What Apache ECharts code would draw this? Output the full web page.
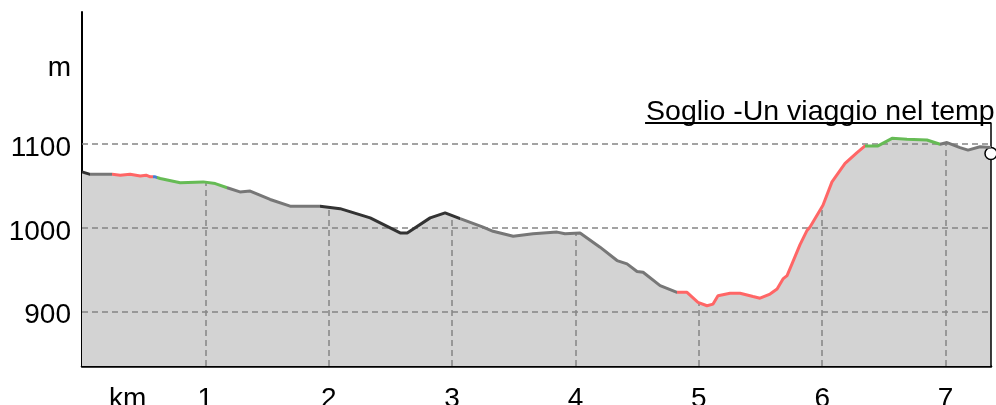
<!DOCTYPE html>
<html>
<head>
<meta charset="utf-8">
<script src="https://cdn.jsdelivr.net/npm/echarts@6/dist/echarts.min.js"></script>
<style>
    html, body { margin: 0; padding: 0; background: #fff; }
    #profile { width: 996px; height: 405px; }
</style>
</head>
<body>
<div id="profile"></div>
<script>
// distance (km) and elevation (m)
const distKm = [0, 0.066, 0.245, 0.31, 0.39, 0.472, 0.52, 0.553, 0.593, 0.634, 0.796, 0.983, 1.08, 1.177,
    1.28, 1.363, 1.525, 1.687, 1.93, 2.092, 2.336, 2.579, 2.636, 2.822, 2.943, 3.065, 3.251, 3.332, 3.495,
    3.656, 3.851, 3.915, 4.037, 4.199, 4.337, 4.418, 4.499, 4.548, 4.686, 4.823, 4.904, 4.993, 5.066, 5.115,
    5.155, 5.253, 5.334, 5.439, 5.496, 5.577, 5.634, 5.682, 5.715, 5.755, 5.82, 5.877, 5.901, 6.006, 6.079,
    6.185, 6.282, 6.347, 6.452, 6.566, 6.687, 6.849, 6.955, 7.012, 7.117, 7.182, 7.279, 7.368];
const elevation = [1067, 1064, 1064, 1063, 1064, 1062, 1063, 1061, 1061, 1059, 1054, 1055, 1053, 1048,
    1043, 1044, 1034, 1026, 1026, 1023, 1012, 994, 994, 1012, 1018, 1011, 1001, 996, 990,
    993, 995, 993, 994, 977, 961, 957, 948, 947, 931, 923, 923, 911, 907, 909,
    919, 922, 922, 918, 916, 921, 927, 939, 943, 957, 980, 997, 1001, 1027, 1055,
    1077, 1090, 1098, 1098, 1107, 1106, 1105, 1100, 1102, 1096, 1093, 1097, 1096];

// coloured stretches of the track (start km + colour)
const segStart = [0, 0.066, 0.245, 0.577, 0.61, 1.177, 1.93, 3.065, 4.823, 6.347, 6.955];
const segColor = ['#333333', '#777777', '#ff6666', '#4a7fd0', '#66bb55', '#777777', '#333333',
    '#777777', '#ff6666', '#66bb55', '#777777'];

const yTicks = [900, 1000, 1100];
const xTicks = [1, 2, 3, 4, 5, 6, 7];
const yUnit = { value: 1196, text: 'm' };
const xUnit = { value: 0.37, text: 'km' };

const title = 'Soglio -Un viaggio nel temp';
const titleStartKm = 4.564;
const titleElev = 1126;
const endMarkerElev = 1089;

const yMin = 835, yMax = 1258;
const xMax = distKm[distKm.length - 1];

function elevAt(km) {
    for (let i = 1; i < distKm.length; i++) {
        if (km <= distKm[i]) {
            const t = (km - distKm[i - 1]) / (distKm[i] - distKm[i - 1]);
            return elevation[i - 1] + t * (elevation[i] - elevation[i - 1]);
        }
    }
    return elevation[elevation.length - 1];
}

const points = distKm.map((d, i) => [d, elevation[i]]);

const pieces = segStart.map((s, i) => {
    const p = { gte: s, color: segColor[i] };
    if (i < segStart.length - 1) p.lt = segStart[i + 1];
    return p;
});

const font = 'Liberation Sans, Arial, sans-serif';
const gridDash = { color: '#858585', width: 1.5, type: [6, 4] };

const markLines = [];
yTicks.forEach(v => markLines.push({ yAxis: v, lineStyle: gridDash }));
xTicks.forEach(k => markLines.push([
    { coord: [k, yMin], lineStyle: gridDash },
    { coord: [k, elevAt(k)] }
]));
// annotation: underline and pointer down the right edge
markLines.push([
    { coord: [titleStartKm, titleElev], lineStyle: { color: '#000', width: 2, type: 'solid' },
      label: { show: true, position: 'insideStartTop', formatter: title, distance: [1, -4],
               color: '#000', fontSize: 28.5, fontFamily: font } },
    { coord: [xMax, titleElev] }
]);
markLines.push([
    { coord: [xMax, titleElev], lineStyle: { color: '#000', width: 1.5, type: 'solid' } },
    { coord: [xMax, yMin] }
]);

const option = {
    animation: false,
    grid: { left: 82, right: 5, top: 12, bottom: 39, outerBoundsMode: 'none' },
    xAxis: {
        type: 'value',
        min: 0,
        max: xMax,
        axisLine: { show: true, lineStyle: { color: '#000', width: 2.5 } },
        axisTick: { show: false },
        splitLine: { show: false },
        axisLabel: {
            customValues: [xUnit.value].concat(xTicks),
            formatter: v => (v === xUnit.value ? xUnit.text : String(v)),
            color: '#000', fontSize: 28, fontFamily: font, margin: 19
        }
    },
    yAxis: {
        type: 'value',
        min: yMin,
        max: yMax,
        axisLine: { show: true, lineStyle: { color: '#000', width: 2 } },
        axisTick: { show: false },
        splitLine: { show: false },
        axisLabel: {
            customValues: yTicks.concat([yUnit.value]),
            formatter: v => '{t|' + (v === yUnit.value ? yUnit.text : String(v)) + '}',
            margin: 11,
            rich: {
                t: { color: '#000', fontSize: 28, fontFamily: font, padding: [8, 0, 0, 0] }
            }
        }
    },
    visualMap: {
        show: false,
        type: 'piecewise',
        dimension: 0,
        seriesIndex: 1,
        pieces: pieces
    },
    series: [
        {
            name: 'fill',
            type: 'line',
            data: points,
            showSymbol: false,
            clip: false,
            z: 2,
            lineStyle: { width: 0 },
            areaStyle: { color: '#d3d3d3', opacity: 1, origin: 'start' },
            markLine: {
                silent: true,
                symbol: 'none',
                label: { show: false },
                data: markLines
            }
        },
        {
            name: 'profile',
            type: 'line',
            data: points,
            showSymbol: false,
            clip: false,
            z: 10,
            lineStyle: { width: 3 },
            markPoint: {
                symbol: 'circle',
                symbolSize: 12,
                label: { show: false },
                itemStyle: { color: '#fff', borderColor: '#000', borderWidth: 1.5 },
                data: [{ coord: [xMax, endMarkerElev] }]
            }
        }
    ]
};

const chart = echarts.init(document.getElementById('profile'));
chart.setOption(option);
</script>
</body>
</html>
